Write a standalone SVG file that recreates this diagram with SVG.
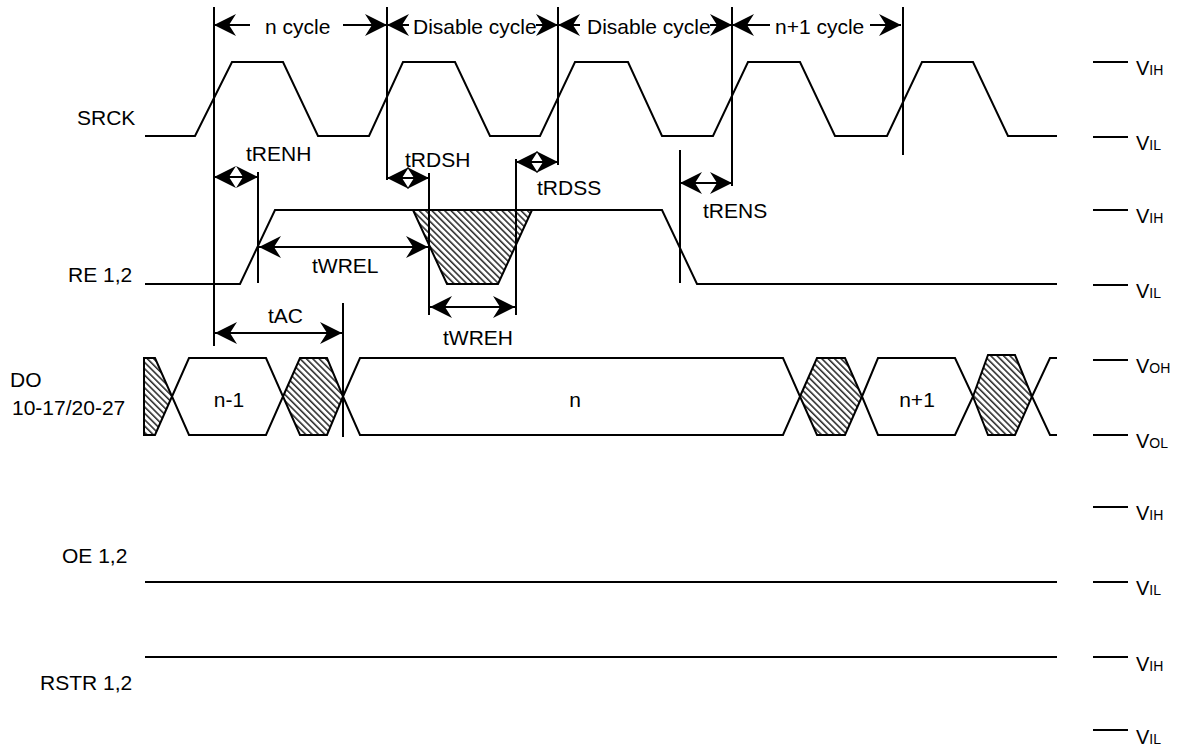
<svg xmlns="http://www.w3.org/2000/svg" width="1183" height="751" viewBox="0 0 1183 751">
<style>
.w{fill:none;stroke:#000;stroke-width:2;stroke-linejoin:miter}
.v{stroke:#000;stroke-width:2;fill:none}
.a{stroke:#000;stroke-width:2;fill:none;marker-end:url(#ah)}
.b{stroke:#000;stroke-width:2;fill:none;marker-start:url(#ah)}
.d{stroke:#000;stroke-width:2;fill:none;marker-start:url(#ah);marker-end:url(#ah)}
.h{fill:url(#hatch);stroke:#000;stroke-width:2;stroke-linejoin:miter}
text{font-family:"Liberation Sans",Arial,sans-serif;font-size:21px;fill:#000}
.lv{font-size:20px}
.sb{font-size:14px}
</style>
<defs>
<pattern id="hatch" patternUnits="userSpaceOnUse" width="4.5" height="4.5" patternTransform="rotate(45)">
<rect width="4.5" height="4.5" fill="#fff"/>
<line x1="0" y1="1" x2="4.5" y2="1" stroke="#000" stroke-width="1.3"/>
</pattern>
<marker id="ah" viewBox="-23 -12 24 24" markerWidth="24" markerHeight="24" refX="0" refY="0" orient="auto-start-reverse" markerUnits="userSpaceOnUse">
<path d="M0,0 L-22,-11 L-15,0 L-22,11 Z" fill="#000"/>
</marker>
</defs>
<rect width="1183" height="751" fill="#fff"/>

<g id="srck">
<text x="77" y="125">SRCK</text>
<path class="w" d="M145,136 L195,136 L232,62 L283,62 L318,136 L369,136 L403,62 L455,62 L490,136 L540,136 L575,62 L628,62 L662,136 L713,136 L748,62 L800,62 L835,136 L887,136 L922,62 L973,62 L1008,136 L1057,136"/>
</g>

<g id="re">
<text x="68" y="282">RE 1,2</text>
<polygon class="h" points="413,210 532,210 498,284 447,284"/>
<path class="w" d="M145,284 L240,284 L275,210 L662,210 L697,284 L1057,284"/>
</g>

<g id="do">
<text x="10" y="387">DO</text>
<text x="12" y="415">10-17/20-27</text>
<polygon class="h" points="144,358 155,358 172,396.5 155,435 144,435"/>
<polygon class="w" points="172,396.5 189,358 266,358 283,396.5 266,435 189,435"/>
<polygon class="h" points="283,396.5 300,358 327,358 343,396.5 327,435 300,435"/>
<polygon class="w" points="343,396.5 360,358 783,358 800,396.5 783,435 360,435"/>
<polygon class="h" points="800,396.5 817,358 845,358 862,396.5 845,435 817,435"/>
<polygon class="w" points="862,396.5 878,358 955,358 973,396.5 955,435 878,435"/>
<polygon class="h" points="973,396.5 988,355 1015,355 1032,396.5 1015,435 988,435"/>
<path class="w" d="M1057,358 L1050,358 L1032,396.5 L1050,435 L1057,435"/>
<text x="229" y="407" text-anchor="middle">n-1</text>
<text x="575" y="407" text-anchor="middle">n</text>
<text x="917" y="407" text-anchor="middle">n+1</text>
</g>

<g id="oe">
<text x="62" y="563">OE 1,2</text>
<path class="w" d="M145,582 L1057,582"/>
</g>

<g id="rstr">
<text x="40" y="690">RSTR 1,2</text>
<path class="w" d="M145,657 L1057,657"/>
</g>

<g id="levels">
<path class="v" d="M1093,62 H1128 M1093,137 H1128 M1093,210 H1128 M1093,285 H1128 M1093,360 H1128 M1093,435 H1128 M1093,507 H1128 M1093,582 H1128 M1093,657 H1128 M1093,730 H1128"/>
<text class="lv" x="1136" y="75">V<tspan class="sb">IH</tspan></text>
<text class="lv" x="1136" y="150">V<tspan class="sb">IL</tspan></text>
<text class="lv" x="1136" y="223">V<tspan class="sb">IH</tspan></text>
<text class="lv" x="1136" y="298">V<tspan class="sb">IL</tspan></text>
<text class="lv" x="1136" y="373">V<tspan class="sb">OH</tspan></text>
<text class="lv" x="1136" y="448">V<tspan class="sb">OL</tspan></text>
<text class="lv" x="1136" y="520">V<tspan class="sb">IH</tspan></text>
<text class="lv" x="1136" y="595">V<tspan class="sb">IL</tspan></text>
<text class="lv" x="1136" y="671">V<tspan class="sb">IH</tspan></text>
<text class="lv" x="1136" y="744">V<tspan class="sb">IL</tspan></text>
</g>

<g id="connectors">
<path class="v" d="M214,7 V346 M387,7 V180 M558,7 V165 M732,7 V186 M903,7 V155 M258,172 V283 M429,173 V315 M516,159 V315 M680,150 V283 M343,303 V437"/>
<line class="b" x1="214" y1="25" x2="250" y2="25"/>
<line class="a" x1="343" y1="25" x2="387" y2="25"/>
<line class="b" x1="387" y1="25" x2="409" y2="25"/>
<line class="a" x1="536" y1="25" x2="558" y2="25"/>
<line class="b" x1="558" y1="25" x2="580" y2="25"/>
<line class="a" x1="710" y1="25" x2="732" y2="25"/>
<line class="b" x1="732" y1="25" x2="770" y2="25"/>
<line class="a" x1="870" y1="25" x2="901" y2="25"/>
<line class="d" x1="214" y1="177" x2="258" y2="177"/>
<line class="d" x1="387" y1="178" x2="429" y2="178"/>
<line class="d" x1="516" y1="162" x2="558" y2="162"/>
<line class="d" x1="680" y1="183" x2="732" y2="183"/>
<line class="d" x1="259" y1="247" x2="428" y2="247"/>
<line class="d" x1="430" y1="307" x2="515" y2="307"/>
<line class="d" x1="215" y1="333" x2="342" y2="333"/>
</g>

<g id="labels">
<text x="265" y="34">n cycle</text>
<text x="413" y="34">Disable cycle</text>
<text x="587" y="34">Disable cycle</text>
<text x="775" y="34">n+1 cycle</text>
<text x="246" y="161">tRENH</text>
<text x="405" y="167">tRDSH</text>
<text x="537" y="195">tRDSS</text>
<text x="703" y="218">tRENS</text>
<text x="312" y="273">tWREL</text>
<text x="443" y="345">tWREH</text>
<text x="268" y="323">tAC</text>
</g>
</svg>
